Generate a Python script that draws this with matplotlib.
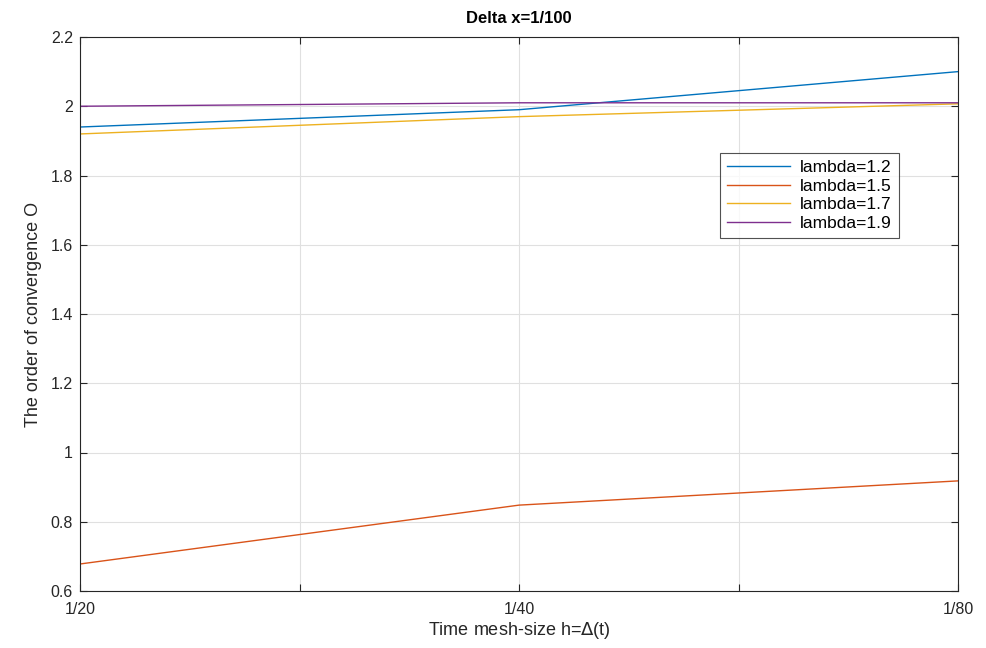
import matplotlib
matplotlib.use("Agg")
import matplotlib.pyplot as plt

x_pos = [1, 2, 3]
x_labels = ["1/20", "1/40", "1/80"]
lam12 = [1.94, 1.99, 2.10]
lam15 = [0.678, 0.848, 0.918]
lam17 = [1.92, 1.97, 2.007]
lam19 = [2.00, 2.01, 2.01]
series_names = ["lambda=1.2", "lambda=1.5", "lambda=1.7", "lambda=1.9"]
colors = ["#0072BD", "#D95319", "#EDB120", "#7E2F8E"]

plt.rcParams['font.family'] = ['Liberation Sans', 'DejaVu Sans']

fig = plt.figure(figsize=(9.86, 6.48), dpi=100)
ax = fig.add_axes([80/986, 1-591/648, (958-80)/986, (591-37)/648])

for vals, name, c in zip([lam12, lam15, lam17, lam19], series_names, colors):
    ax.plot(x_pos, vals, color=c, lw=1.0, label=name)

ax.set_xlim(1, 3)
ax.set_ylim(0.6, 2.2)
ax.set_xticks([1, 1.5, 2, 2.5, 3])
ax.set_xticklabels([x_labels[0], "", x_labels[1], "", x_labels[2]])
ax.set_yticks([0.6, 0.8, 1.0, 1.2, 1.4, 1.6, 1.8, 2.0, 2.2])
ax.set_yticklabels(["0.6", "0.8", "1", "1.2", "1.4", "1.6", "1.8", "2", "2.2"])
ax.grid(True, color="#e0e0e0", lw=0.8)
ax.set_axisbelow(True)
ax.tick_params(direction="in", top=True, right=True, labelsize=11.5, colors="#262626", length=5)
ax.tick_params(axis="x", pad=8)
ax.tick_params(axis="y", pad=5)
for s in ax.spines.values():
    s.set_color("#262626")
    s.set_linewidth(0.8)

ax.set_title("Delta x=1/100", fontsize=12, fontweight="bold", pad=10)
ax.set_xlabel("Time mesh-size h=$\\Delta$(t)", fontsize=13, color="#262626", labelpad=2)
ax.set_ylabel("The order of convergence O", fontsize=13, color="#262626", labelpad=6)

leg = ax.legend(loc="upper left", bbox_to_anchor=(0.729, 0.7906), fontsize=12.5,
                frameon=True, fancybox=False, edgecolor="#262626", handlelength=3.6,
                borderpad=0.4, labelspacing=0.2, handletextpad=0.6, borderaxespad=0)
leg.get_frame().set_linewidth(0.8)

fig.savefig("out.png", dpi=100)
